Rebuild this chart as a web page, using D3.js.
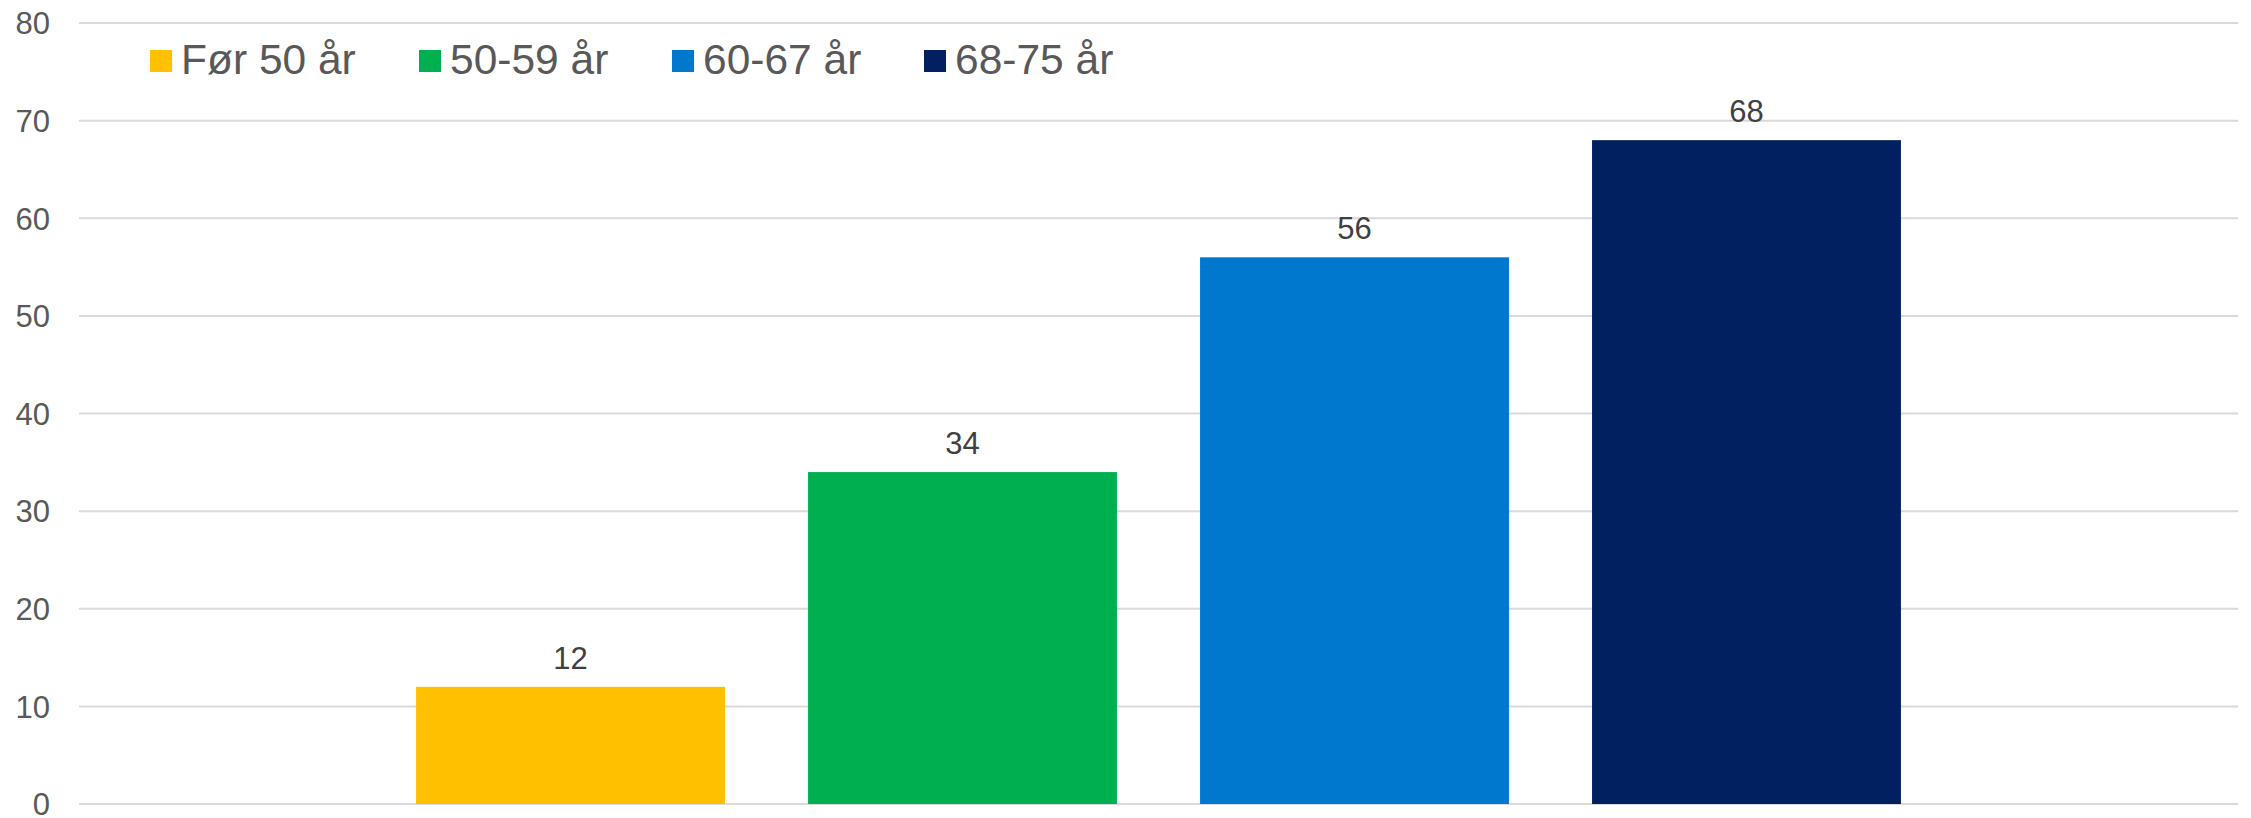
<!DOCTYPE html>
<html>
<head>
<meta charset="utf-8">
<script src="https://cdn.jsdelivr.net/npm/d3@7"></script>
<style>
  body { margin: 0; background: #fff; }
  svg { display: block; font-family: "Liberation Sans", Arial, sans-serif; }
</style>
</head>
<body>
<svg width="2251" height="818"></svg>
<script>
// data
var category = ["Alle"];
var series = ["Før 50 år", "50-59 år", "60-67 år", "68-75 år"];
var values = [12, 34, 56, 68];
var colors = ["#FFC000", "#00B050", "#0078CE", "#002060"];
var yTicks = [0, 10, 20, 30, 40, 50, 60, 70, 80];

var svg = d3.select("svg");

// plot area (window.top is reserved, so use other names)
var plotLeft = 79, plotRight = 2238, plotTop = 23, plotBottom = 804;

var y = d3.scaleLinear().domain([0, 80]).range([plotBottom, plotTop]);

// one category, four series clustered inside it
var x0 = d3.scaleBand().domain(category).range([plotLeft, plotRight]).paddingOuter(0.227).paddingInner(0);
var x1 = d3.scaleBand().domain(series).range([0, x0.bandwidth()]).paddingInner(0.212).paddingOuter(0);

// gridlines
svg.append("g")
  .selectAll("line")
  .data(yTicks)
  .enter().append("line")
    .attr("x1", plotLeft)
    .attr("x2", plotRight)
    .attr("y1", d => y(d))
    .attr("y2", d => y(d))
    .attr("stroke", "#d9d9d9")
    .attr("stroke-width", 2);

// y axis labels
var yAxis = svg.append("g")
  .attr("transform", "translate(50,0)")
  .call(d3.axisLeft(y).tickValues(yTicks).tickSize(0).tickPadding(0));
yAxis.select(".domain").remove();
yAxis.selectAll("text")
  .attr("font-size", 31)
  .attr("font-family", "Liberation Sans, Arial, sans-serif")
  .attr("fill", "#595959")
  .attr("dy", "0.35em");

// bars
var g = svg.append("g").attr("transform", "translate(" + x0(category[0]) + ",0)");

g.selectAll("rect")
  .data(series)
  .enter().append("rect")
    .attr("x", d => x1(d))
    .attr("width", x1.bandwidth())
    .attr("y", (d, i) => y(values[i]))
    .attr("height", (d, i) => y(0) - y(values[i]))
    .attr("fill", (d, i) => colors[i]);

// data labels
g.selectAll("text.lbl")
  .data(series)
  .enter().append("text")
    .attr("class", "lbl")
    .attr("x", d => x1(d) + x1.bandwidth() / 2)
    .attr("y", (d, i) => y(values[i]) - 18)
    .attr("text-anchor", "middle")
    .attr("font-size", 31)
    .attr("fill", "#404040")
    .text((d, i) => values[i]);

// legend
var legendX = [150, 419, 672, 924];
var legend = svg.append("g");
series.forEach(function(s, i) {
  legend.append("rect")
    .attr("x", legendX[i])
    .attr("y", 50)
    .attr("width", 22)
    .attr("height", 22)
    .attr("fill", colors[i]);
  legend.append("text")
    .attr("x", legendX[i] + 31)
    .attr("y", 74)
    .attr("font-size", 42.5)
    .attr("fill", "#595959")
    .text(s);
});
</script>
</body>
</html>
